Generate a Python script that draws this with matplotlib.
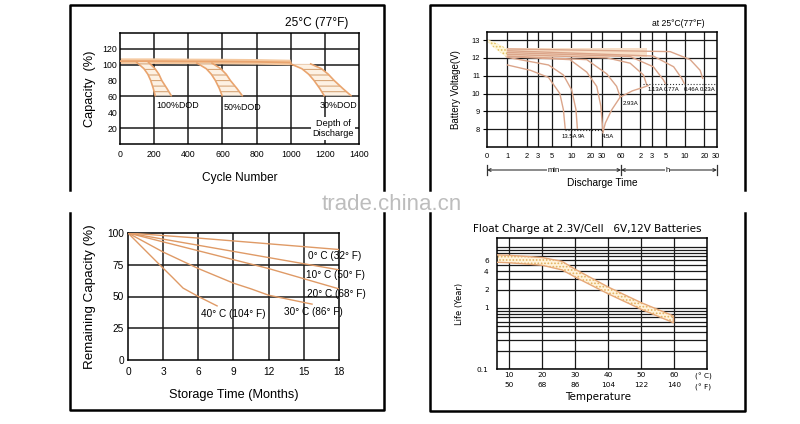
import matplotlib
matplotlib.use("Agg")
import matplotlib.pyplot as plt
import matplotlib.transforms as mtransforms
from matplotlib.lines import Line2D
from matplotlib.ticker import FixedLocator, NullLocator, NullFormatter

plt.rcParams['font.family'] = ['Liberation Sans', 'DejaVu Sans']
plt.rcParams['hatch.linewidth'] = 0.8

W, H = 800, 424

# ---- cycle life vs depth of discharge (top left)
cycle_ticks = [0, 200, 400, 600, 800, 1000, 1200, 1400]
cap_ticks = [20, 40, 60, 80, 100, 120]
flat_cycles = [0, 200, 400, 600, 800, 1000]
flat_cap = [104.5, 104.5, 104.2, 104.0, 103.6, 102.8]
dod_names = ['100%DOD', '50%DOD', '30%DOD']
dod_levels = [[103, 95, 88, 80, 70, 61],
              [102, 95, 88, 80, 70, 61],
              [101, 95, 88, 80, 70, 61]]
dod_left = [[98, 140, 163, 180, 195, 206],
            [451, 505, 535, 559, 582, 598],
            [1000, 1065, 1105, 1137, 1170, 1196]]
dod_right = [[167, 205, 228, 245, 275, 300],
             [539, 590, 622, 647, 685, 716],
             [1117, 1180, 1220, 1255, 1305, 1353]]

# ---- discharge curves (top right), time in minutes
time_ticks = [0.48, 1, 2, 3, 5, 10, 20, 30, 60, 120, 180, 300, 600, 1200, 1800]
time_labels = ['0', '1', '2', '3', '5', '10', '20', '30', '60', '2', '3', '5', '10', '20', '30']
volt_ticks = [8, 9, 10, 11, 12, 13]
currents = ['13.5A', '9A', '4.5A', '2.93A', '1.13A', '0.77A', '0.46A', '0.23A']
dis_t = [[1, 2.3, 4.4, 6.6, 7.5, 8.0],
         [1, 4.4, 7.5, 10.1, 11.8, 12.4],
         [1, 9.5, 17.4, 24.9, 28.9, 31],
         [1, 17.4, 35.8, 51, 58],
         [1, 35.8, 83, 134, 150],
         [1, 83, 191, 275, 294],
         [1, 191, 397, 530, 580],
         [1, 350, 720, 1030, 1130]]
dis_v = [[11.6, 11.3, 10.9, 10.0, 9.1, 8.05],
         [12.03, 11.6, 11.04, 10.2, 9.1, 8.05],
         [12.07, 11.9, 11.2, 10.4, 9.3, 7.95],
         [12.1, 11.9, 11.1, 10.4, 9.8],
         [12.2, 12.0, 11.7, 11.04, 10.5],
         [12.3, 12.07, 11.5, 10.76, 10.57],
         [12.4, 12.1, 11.5, 10.85, 10.57],
         [12.5, 12.35, 11.9, 11.3, 10.85]]
end_t = [31, 34, 43, 58, 90, 134, 160]
end_v = [7.8, 8.35, 9.1, 9.8, 10.15, 10.35, 10.45]
start_t = [0.48, 0.6, 0.8, 1.0]
start_hi = [13.05, 12.9, 12.7, 12.5]
start_lo = [12.95, 12.6, 12.25, 12.0]
plateau_t = [1, 150]
plateau_lo = [12.02, 12.02]
plateau_hi = [12.55, 12.55]

# ---- self discharge (bottom left)
month_ticks = [0, 3, 6, 9, 12, 15, 18]
remain_ticks = [0, 25, 50, 75, 100]
store_names = ['0° C (32° F)', '10° C (50° F)', '20° C (68° F)', '30° C (86° F)', '40° C (104° F)']
store_m = [[0, 6, 12, 18],
           [0, 9, 15, 18],
           [0, 3, 6, 9, 12, 15, 18],
           [0, 3, 6, 9, 10.5, 12, 15.7],
           [0, 1.4, 2.7, 3.8, 4.7, 6.0, 7.6]]
store_cap = [[100, 96, 91.5, 87],
             [100, 85.5, 75.8, 71],
             [100, 93, 86, 79, 72, 64, 56],
             [100, 85, 72, 60.5, 56, 51, 44],
             [100, 87, 75, 65, 56.6, 50, 42.6]]

# ---- float life vs temperature (bottom right)
temp_c = [10, 20, 30, 40, 50, 60]
temp_f = [50, 68, 86, 104, 122, 140]
life_ticks = [0.1, 1, 2, 4, 6]
life_grid = [0.2, 0.3, 0.4, 0.5, 0.6, 0.7, 0.8, 0.9, 3, 5, 7, 8, 9, 10]
band_t = [6.3, 10, 20, 26, 30, 40, 50, 59.5]
band_hi = [7.4, 7.3, 6.7, 5.8, 4.3, 2.2, 1.22, 0.75]
band_lo = [5.6, 5.5, 5.0, 4.2, 3.2, 1.7, 0.95, 0.58]

fig = plt.figure(figsize=(W / 100, H / 100), dpi=100)
fig.patch.set_facecolor('white')


def box(x0, y0, x1, y1):
    return fig.add_axes([x0 / W, 1 - y1 / H, (x1 - x0) / W, (y1 - y0) / H])


def frame(xs, ys):
    fig.add_artist(Line2D([x / W for x in xs], [1 - y / H for y in ys],
                          transform=fig.transFigure, color='black', lw=1.8))


def ftext(x, y, s, **kw):
    fig.text(x / W, 1 - y / H, s, **kw)


frame([70, 70, 384, 384], [190, 5, 5, 190])
frame([430, 430, 745, 745], [190, 5, 5, 190])
frame([70, 70, 384, 384], [213, 410, 410, 213])
frame([430, 430, 745, 745], [213, 411, 411, 213])

grid_kw = dict(color='#1a1a1a', lw=1.1)
orange = '#e9a46e'

# ---------------- top left
ax = box(120, 33, 359, 144)
ax.set_xlim(0, 1400)
ax.set_ylim(0, 140)
ax.set_xticks(cycle_ticks)
ax.set_yticks(cap_ticks)
ax.tick_params(length=0, labelsize=6.3, pad=2)
ax.tick_params(axis='x', pad=4)
for c in cycle_ticks[1:-1]:
    ax.axvline(c, **grid_kw, zorder=1)
for c in [20, 60, 100, 120]:
    ax.axhline(c, **grid_kw, zorder=1)
ax.plot(flat_cycles, flat_cap, color='#f5c9a0', lw=4, zorder=2, solid_capstyle='butt')
ax.plot(flat_cycles, flat_cap, color=orange, lw=1.3, zorder=3)
for lev, lft, rgt in zip(dod_levels, dod_left, dod_right):
    ax.fill_betweenx(lev, lft, rgt, facecolor='#fdf1e3', edgecolor='#d7a77a',
                     hatch='---', lw=0, zorder=2)
    ax.plot(lft, lev, color=orange, lw=1.2, zorder=3)
    ax.plot(rgt, lev, color=orange, lw=1.2, zorder=3)
ax.text(335, 48.5, dod_names[0], ha='center', va='center', fontsize=6.4, zorder=4)
ax.text(718, 46, dod_names[1], ha='center', va='center', fontsize=6.4, zorder=4)
ax.text(1282, 48.5, dod_names[2], ha='center', va='center', fontsize=6.4, zorder=4)
ax.text(1247, 19.5, 'Depth of\nDischarge', ha='center', va='center', fontsize=6.6,
        linespacing=1.2, zorder=4,
        bbox=dict(facecolor='white', edgecolor='none', pad=1.0))
for s in ax.spines.values():
    s.set_linewidth(1.1)
ax.set_xlabel('Cycle Number', fontsize=8.6, labelpad=10)
ax.set_ylabel('Capacity  (%)', fontsize=9.2, labelpad=5)
ftext(317, 23, '25°C (77°F)', ha='center', va='center', fontsize=8.6)

# ---------------- top right
ax = box(487, 32, 717, 147)
ax.set_xscale('log')
ax.set_xlim(0.48, 1890)
ax.set_ylim(7.0, 13.45)
ax.xaxis.set_major_locator(FixedLocator(time_ticks))
ax.xaxis.set_minor_locator(NullLocator())
ax.set_xticklabels(time_labels)
ax.set_yticks(volt_ticks)
ax.tick_params(axis='x', length=0, labelsize=5.4, pad=4)
ax.tick_params(axis='y', length=3, labelsize=5.4, pad=2)
for t in time_ticks[1:-1]:
    ax.axvline(t, color='#1a1a1a', lw=0.9, zorder=1)
for v in volt_ticks:
    ax.axhline(v, color='#1a1a1a', lw=0.9, zorder=1)
ax.fill_between(plateau_t, plateau_lo, plateau_hi, color='#f8dfc8', lw=0, zorder=2)
ax.fill_between(start_t, start_lo, start_hi, facecolor='#fff6d8', edgecolor='#e0c060',
                hatch='.....', lw=0, zorder=2)
for tt, vv in zip(dis_t, dis_v):
    ax.plot(tt, vv, color='#dba58a', lw=1.0, zorder=3)
ax.plot(end_t, end_v, color='#dba58a', lw=1.0, zorder=3)
ax.plot([134, 1800], [10.52, 10.52], color='#333333', lw=0.8, ls=':', zorder=3)
ax.plot([8, 31], [7.95, 7.95], color='#333333', lw=0.8, ls=':', zorder=3)
lab_pos = [(6.9, 7.6), (12.6, 7.6), (30.3, 7.6), (64.5, 9.46),
           (157, 10.23), (275, 10.23), (566, 10.23), (1004, 10.23)]
for name, (lx, ly) in zip(currents, lab_pos):
    ax.text(lx, ly, name, ha='left', va='center', fontsize=4.3, zorder=4)
for s in ax.spines.values():
    s.set_linewidth(1.1)
ax.set_ylabel('Battery Voltage(V)', fontsize=7, labelpad=8)
trans = mtransforms.blended_transform_factory(ax.transData, ax.transAxes)
ax.annotate('', xy=(60, -0.2), xytext=(0.48, -0.2), xycoords=trans, textcoords=trans,
            arrowprops=dict(arrowstyle='<->', lw=0.8, color='#333333',
                            shrinkA=0, shrinkB=0, mutation_scale=5))
ax.annotate('', xy=(1890, -0.2), xytext=(60, -0.2), xycoords=trans, textcoords=trans,
            arrowprops=dict(arrowstyle='<->', lw=0.8, color='#333333',
                            shrinkA=0, shrinkB=0, mutation_scale=5))
for t in [0.48, 60, 1890]:
    ax.plot([t, t], [-0.16, -0.24], transform=trans, color='#333333', lw=0.9, clip_on=False)
ax.text(5.2, -0.2, 'min', transform=trans, ha='center', va='center', fontsize=5.5,
        bbox=dict(facecolor='white', edgecolor='none', pad=0.3))
ax.text(314, -0.2, 'h', transform=trans, ha='center', va='center', fontsize=5.5,
        bbox=dict(facecolor='white', edgecolor='none', pad=0.3))
ftext(602, 183, 'Discharge Time', ha='center', va='center', fontsize=7.3)
ftext(678, 24, 'at 25°C(77°F)', ha='center', va='center', fontsize=6.2)

# ---------------- bottom left
ax = box(128, 233, 339, 360)
ax.set_xlim(0, 18)
ax.set_ylim(0, 100)
ax.set_xticks(month_ticks)
ax.set_yticks(remain_ticks)
ax.tick_params(length=0, labelsize=7.3, pad=3)
ax.tick_params(axis='x', pad=5)
for m in month_ticks[1:-1]:
    ax.axvline(m, **grid_kw, zorder=1)
for r in remain_ticks[1:-1]:
    ax.axhline(r, **grid_kw, zorder=1)
for mm, cc in zip(store_m, store_cap):
    ax.plot(mm, cc, color='#df9a66', lw=1.0, zorder=3)
ax.text(15.34, 81.9, store_names[0], ha='left', va='center', fontsize=7.2, zorder=4)
ax.text(15.17, 66.9, store_names[1], ha='left', va='center', fontsize=7.2, zorder=4)
ax.text(15.26, 52.0, store_names[2], ha='left', va='center', fontsize=7.2, zorder=4)
ax.text(15.8, 37.8, store_names[3], ha='center', va='center', fontsize=7.2, zorder=4)
ax.text(8.97, 36.2, store_names[4], ha='center', va='center', fontsize=7.2, zorder=4)
for s in ax.spines.values():
    s.set_linewidth(1.1)
ax.set_xlabel('Storage Time (Months)', fontsize=9.2, labelpad=9)
ax.set_ylabel('Remaining Capacity (%)', fontsize=9.6, labelpad=8)

# ---------------- bottom right
small = ['DejaVu Sans']
ax = box(497, 238, 707, 369)
ax.set_yscale('log')
ax.set_xlim(6.3, 69.9)
ax.set_ylim(0.1, 14)
ax.set_xticks(temp_c)
ax.set_xticklabels(['%d\n%d' % (c, f) for c, f in zip(temp_c, temp_f)],
                   family=small, fontsize=5.3, linespacing=1.75)
ax.yaxis.set_major_locator(FixedLocator(life_ticks))
ax.yaxis.set_minor_locator(FixedLocator(life_grid))
ax.yaxis.set_minor_formatter(NullFormatter())
ax.set_yticklabels(['0.1', '1', '2', '4', '6'], family=small, fontsize=5.3)
ax.tick_params(which='both', length=0, pad=2.5)
ax.tick_params(axis='y', pad=6)
ax.grid(True, which='both', color='#1a1a1a', lw=0.9, zorder=1)
ax.set_axisbelow(True)
ax.fill_between(band_t, band_lo, band_hi, facecolor='#fff3dc', edgecolor='#e2b25e',
                hatch='.....', lw=0, zorder=2)
ax.plot(band_t, band_hi, color='#e6a878', lw=1.0, zorder=3)
ax.plot(band_t, band_lo, color='#e6a878', lw=1.0, zorder=3)
ax.plot([band_t[-1], band_t[-1]], [band_lo[-1], band_hi[-1]], color='#e6a878', lw=1.0, zorder=3)
for s in ax.spines.values():
    s.set_linewidth(1.1)
trans = mtransforms.blended_transform_factory(ax.transData, ax.transAxes)
ax.text(68.7, -0.027, '(° C)\n(° F)', transform=trans, ha='center', va='top',
        family=small, fontsize=5.3, linespacing=1.75)
ax.set_ylabel('Life (Year)', family=small, fontsize=6, labelpad=9)
ftext(598, 397, 'Temperature', ha='center', va='center', family=small, fontsize=7.5)
ftext(587, 229, 'Float Charge at 2.3V/Cell   6V,12V Batteries', ha='center', va='center',
      family=small, fontsize=7.5)

# watermark
ftext(392, 205, 'trade.china.cn', ha='center', va='center', fontsize=16,
      color='#bdbdbd')

fig.savefig('out.png', dpi=100, facecolor='white')
